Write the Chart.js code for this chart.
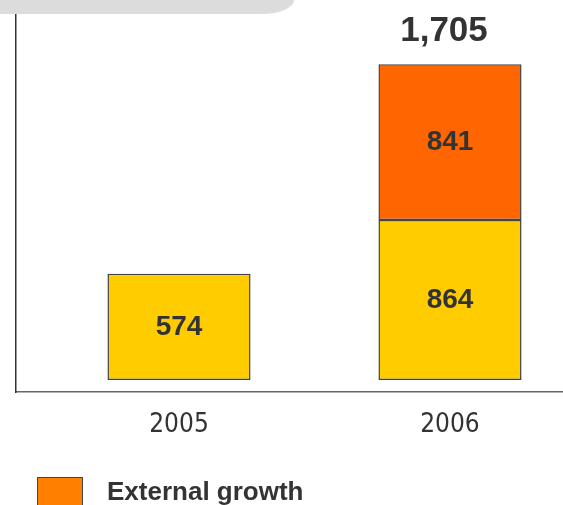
<!DOCTYPE html>
<html>
<head>
<meta charset="utf-8">
<script src="https://cdn.jsdelivr.net/npm/chart.js@4/dist/chart.umd.min.js"></script>
<style>
  html, body { margin: 0; padding: 0; background: #fff; overflow: hidden; }
  #wrap { position: relative; width: 563px; height: 505px; }
  #header {
    position: absolute; left: 0; top: 0; width: 294px; height: 14px;
    background: #dcdcdc; border-bottom-right-radius: 32px 14px;
  }
  #legend { position: absolute; left: 0; top: 0; width: 563px; height: 505px; pointer-events: none; }
  #legend .box {
    position: absolute; left: 37px; top: 477px; width: 44px; height: 40px;
    background: #ff8000; border: 1px solid #444;
  }
  #legend .txt {
    position: absolute; left: 107px; top: 478px; font: bold 26px/26px "Liberation Sans", Arial, sans-serif;
    color: #333; white-space: nowrap;
  }
</style>
</head>
<body>
<div id="wrap">
  <canvas id="growthChart" width="563" height="505"></canvas>
  <div id="header"></div>
  <div id="legend"><div class="box"></div><div class="txt">External growth</div></div>
</div>
<script>
// Data chart
const years = ['2005', '2006'];
const organicGrowth = [574, 864];
const externalGrowth = [null, 841];
const totals = [null, 1705];

const BAR_BORDER = '#444444';
const LABEL_COLOR = '#333333';

// Plugin: angka di tengah bar dan total di atas stack
const valueLabels = {
    id: 'valueLabels',
    afterDatasetsDraw(chart) {
        const ctx = chart.ctx;
        ctx.save();
        ctx.fillStyle = LABEL_COLOR;
        ctx.textAlign = 'center';
        ctx.textBaseline = 'middle';
        ctx.font = 'bold 28px "Liberation Sans", Arial, sans-serif';
        chart.data.datasets.forEach((ds, di) => {
            const meta = chart.getDatasetMeta(di);
            meta.data.forEach((bar, i) => {
                const v = ds.data[i];
                if (v === null || v === undefined) return;
                ctx.fillText(String(v), bar.x, (bar.y + bar.base) / 2);
            });
        });
        // total di atas stack
        const topMeta = chart.getDatasetMeta(chart.data.datasets.length - 1);
        ctx.font = 'bold 35px "Liberation Sans", Arial, sans-serif';
        totals.forEach((t, i) => {
            if (t === null) return;
            const bar = topMeta.data[i];
            ctx.fillText(t.toLocaleString('en-US'), bar.x - 6, bar.y - 33);
        });
        ctx.restore();
    }
};

const ctx = document.getElementById('growthChart').getContext('2d');
new Chart(ctx, {
    type: 'bar',
    data: {
        labels: years.map(Number),
        datasets: [
            {
                label: 'Organic growth',
                data: organicGrowth,
                backgroundColor: '#ffcc00',
                borderColor: BAR_BORDER,
                borderWidth: 1.5,
                borderSkipped: false,
                categoryPercentage: 1,
                barPercentage: 0.528
            },
            {
                label: 'External growth',
                data: externalGrowth,
                backgroundColor: '#ff6600',
                borderColor: BAR_BORDER,
                borderWidth: 1.5,
                borderSkipped: false,
                categoryPercentage: 1,
                barPercentage: 0.528
            }
        ]
    },
    options: {
        responsive: false,
        animation: false,
        layout: { padding: { top: 14, left: 0, right: 0, bottom: 0 } },
        plugins: {
            legend: { display: false },
            tooltip: { enabled: false }
        },
        scales: {
            x: {
                type: 'linear',
                stacked: true,
                offset: false,
                min: 2004.3985,
                max: 2006.417,
                grid: { display: false },
                border: { display: true, color: '#666666', width: 1.5 },
                afterBuildTicks: (scale) => {
                    scale.ticks = years.map(y => ({ value: Number(y) }));
                },
                afterFit: (scale) => { scale.height = 113; },
                ticks: {
                    color: LABEL_COLOR,
                    padding: 10,
                    maxRotation: 0,
                    font: { family: '"DejaVu Sans Condensed", "Liberation Sans", sans-serif', size: 26 },
                    callback: (value) => String(value)
                }
            },
            y: {
                stacked: true,
                min: -65,
                max: 1976,
                grid: { display: false },
                border: { display: true, color: '#333333', width: 1.5 },
                ticks: { display: false },
                afterFit: (scale) => { scale.width = 16; }
            }
        }
    },
    plugins: [valueLabels]
});
</script>
</body>
</html>
